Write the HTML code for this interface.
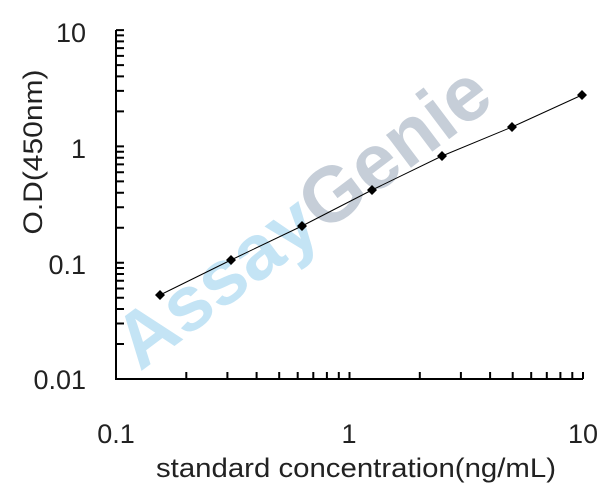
<!DOCTYPE html>
<html><head><style>body{margin:0;background:#fff}svg{display:block}</style></head>
<body>
<svg width="608" height="492" viewBox="0 0 608 492" xmlns="http://www.w3.org/2000/svg" font-family="Liberation Sans, Arial, sans-serif">
<g transform="translate(140,372) rotate(-37)" font-weight="bold" font-size="78">
<text x="0" y="0"><tspan fill="#c4e4f5">Assay</tspan><tspan fill="#c6ced8">Genie</tspan></text>
</g>
<g stroke="#000" stroke-width="2" fill="none">
<path d="M116,30 V379 H583"/>
</g>
<g stroke="#000" stroke-width="2" id="yt"></g>
<g stroke="#000" stroke-width="1" fill="none">
<polyline points="160,295 231,260 302,226 372,190 442,156 512,127 582,95"/>
</g>
<g fill="#000">
<path d="M160,290 l5,5 l-5,5 l-5,-5z M231,255 l5,5 l-5,5 l-5,-5z M302,221 l5,5 l-5,5 l-5,-5z M372,185 l5,5 l-5,5 l-5,-5z M442,151 l5,5 l-5,5 l-5,-5z M512,122 l5,5 l-5,5 l-5,-5z M582,90 l5,5 l-5,5 l-5,-5z"/>
</g>
<g font-size="27" fill="#222">
<text x="86" y="42" text-anchor="end">10</text>
<text x="86" y="158" text-anchor="end">1</text>
<text x="86" y="274" text-anchor="end">0.1</text>
<text x="86" y="389" text-anchor="end">0.01</text>
<text x="116" y="443" text-anchor="middle">0.1</text>
<text x="349" y="443" text-anchor="middle">1</text>
<text x="583" y="443" text-anchor="middle">10</text>
<text x="356" y="477" text-anchor="middle" textLength="400" lengthAdjust="spacingAndGlyphs">standard concentration(ng/mL)</text>
<text transform="translate(42,152) rotate(-90)" text-anchor="middle" textLength="165" lengthAdjust="spacingAndGlyphs">O.D(450nm)</text>
</g>
<script>
var g=document.getElementById('yt'),s='';
var L=[0,0.30103,0.47712,0.60206,0.69897,0.77815,0.84510,0.90309,0.95424,1];
for(var d=0;d<3;d++)for(var i=0;i<10;i++){
 var y=379-116.3*(d+L[i]);s+='M116,'+y.toFixed(1)+' h8 ';
 var x=116+233.5*(d+L[i]); if(d<2) s+='M'+x.toFixed(1)+',379 v-7 ';
}
var p=document.createElementNS('http://www.w3.org/2000/svg','path');p.setAttribute('d',s);p.setAttribute('fill','none');g.appendChild(p);
</script>
</svg>
</body></html>
